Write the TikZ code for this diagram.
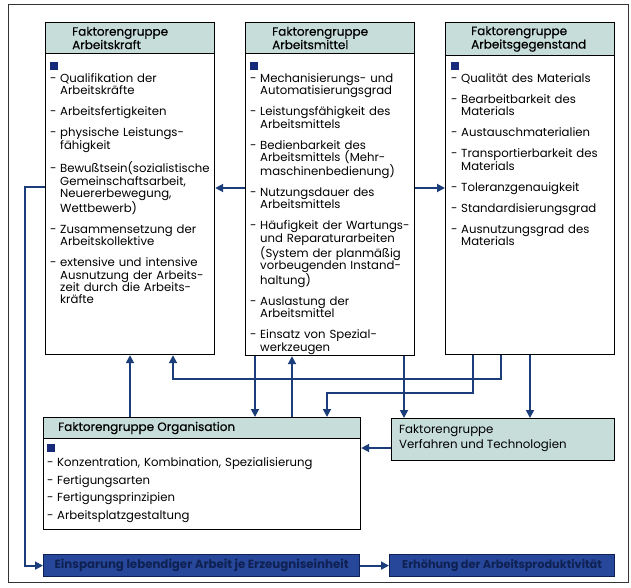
\documentclass[tikz,border=0pt]{standalone}
\usepackage{fontspec}
\setmainfont{Poppins}
\newfontfamily\kopffont{Poppins}[FakeBold=0.4]
\usetikzlibrary{arrows.meta}

\definecolor{linienblau}{HTML}{1B3D7A}
\definecolor{kopfgrau}{HTML}{C6DDD9}
\definecolor{quadratblau}{HTML}{17297A}
\definecolor{zielblau}{HTML}{27479A}
\definecolor{zieltext}{HTML}{0F2152}

% Aufzaehlung in den Kaesten
\newcommand{\quadrat}{\noindent\textcolor{quadratblau}{\rule{8pt}{8pt}}}
\newcommand{\punkt}[1][8.7pt]{\par\vspace{#1}\hangindent=10pt\hangafter=1\noindent\makebox[10pt][l]{-}}

\tikzset{
  kasten/.style={draw=black, line width=1.2pt, fill=white, inner sep=0pt, anchor=north west},
  kopf/.style={kasten, fill=kopfgrau},
  kopftext/.style={anchor=west, align=left, inner sep=0pt, font=\kopffont\fontsize{12}{12}\selectfont},
  liste/.style={anchor=north west, inner sep=0pt, text width=#1, font=\fontsize{11.7}{12.3}\selectfont},
  ziel/.style={draw=zieltext, line width=1.2pt, fill=zielblau, inner sep=0pt, anchor=north west,
    text=zieltext, font=\bfseries\fontsize{11.8}{13}\selectfont},
  fluss/.style={draw=linienblau, line width=1.8pt, -{Triangle[length=8pt,width=8pt]}, fill=none},
  rahmen/.style={draw=black!80, line width=1pt}
}

\begin{document}
\begin{tikzpicture}[x=1pt, y=-1pt]
    \useasboundingbox (0,0) rectangle (631,588);
    \draw[rahmen] (8,5) rectangle (628,582);

    % Faktorengruppe Arbeitskraft
    \node[kasten, minimum width=169pt, minimum height=332pt] (kraft) at (45,22) {};
    \node[kopf, minimum width=169pt, minimum height=31pt] (kraftkopf) at (45,22) {};
    \node[kopftext] (kraftname) at (72,38) {Faktorengruppe\\Arbeitskraft};
    \node[liste=180pt] (kraftliste) at (50,62) {\quadrat
      \punkt[0pt]Qualifikation der\newline Arbeitskräfte
      \punkt Arbeitsfertigkeiten
      \punkt physische Leistungs-\newline fähigkeit
      \punkt Bewußtsein(sozialistische\newline Gemeinschaftsarbeit,\newline Neuererbewegung,\newline Wettbewerb)
      \punkt Zusammensetzung der\newline Arbeitskollektive
      \punkt extensive und intensive\newline Ausnutzung der Arbeits-\newline zeit durch die Arbeits-\newline kräfte\par};

    % Faktorengruppe Arbeitsmittel
    \node[kasten, minimum width=169pt, minimum height=333pt] (mittel) at (245,22) {};
    \node[kopf, minimum width=169pt, minimum height=31pt] (mittelkopf) at (245,22) {};
    \node[kopftext] (mittelname) at (272,38) {Faktorengruppe\\Arbeitsmittel};
    \node[liste=180pt] (mittelliste) at (250,62) {\quadrat
      \punkt[0pt]Mechanisierungs- und\newline Automatisierungsgrad
      \punkt Leistungsfähigkeit des\newline Arbeitsmittels
      \punkt Bedienbarkeit des\newline Arbeitsmittels (Mehr-\newline maschinenbedienung)
      \punkt Nutzungsdauer des\newline Arbeitsmittels
      \punkt Häufigkeit der Wartungs-\newline und Reparaturarbeiten\newline (System der planmäßig\newline vorbeugenden Instand-\newline haltung)
      \punkt Auslastung der\newline Arbeitsmittel
      \punkt Einsatz von Spezial-\newline werkzeugen\par};

    % Faktorengruppe Arbeitsgegenstand
    \node[kasten, minimum width=169pt, minimum height=332pt] (gegen) at (445,22) {};
    \node[kopf, minimum width=169pt, minimum height=33pt] (gegenkopf) at (445,22) {};
    \node[kopftext] (gegenname) at (471,39) {Faktorengruppe\\Arbeitsgegenstand};
    \node[liste=180pt] (gegenliste) at (451,62) {\quadrat
      \punkt[0pt]Qualität des Materials
      \punkt Bearbeitbarkeit des\newline Materials
      \punkt Austauschmaterialien
      \punkt Transportierbarkeit des\newline Materials
      \punkt Toleranzgenauigkeit
      \punkt Standardisierungsgrad
      \punkt Ausnutzungsgrad des\newline Materials\par};

    % Faktorengruppe Organisation
    \node[kasten, minimum width=317pt, minimum height=112pt] (orga) at (43,417) {};
    \node[kopf, minimum width=317pt, minimum height=21pt] (orgakopf) at (43,417) {};
    \node[kopftext] (organame) at (58,428) {Faktorengruppe Organisation};
    \node[liste=300pt, font=\fontsize{11.7}{17.5}\selectfont] (orgaliste) at (47,444) {\quadrat
      \punkt[-3pt]Konzentration, Kombination, Spezialisierung
      \punkt[0pt]Fertigungsarten
      \punkt[0pt]Fertigungsprinzipien
      \punkt[0pt]Arbeitsplatzgestaltung\par};

    % Faktorengruppe Verfahren und Technologien
    \node[kopf, minimum width=223pt, minimum height=42pt] (verf) at (391,418) {};
    \node[kopftext, font=\fontsize{11.8}{15}\selectfont] (verfname) at (399,438) {Faktorengruppe\\Verfahren und Technologien};

    % Ergebnis
    \node[ziel, minimum width=316pt, minimum height=22pt] (einsp) at (43,554) {Einsparung lebendiger Arbeit je Erzeugniseinheit};
    \node[ziel, minimum width=225pt, minimum height=22pt, font=\bfseries\fontsize{11.3}{13}\selectfont] (erhoe) at (389,554) {Erhöhung der Arbeitsproduktivität};

    % Verbindungen
    \draw[fluss] (mittel.west |- 0,188) -- (kraft.east |- 0,188);
    \draw[fluss] (mittel.east |- 0,188) -- (gegen.west |- 0,188);
    \draw[fluss] (kraft.west |- 0,187) -- (25,187) |- (einsp.west);
    \draw[fluss] (einsp.east) -- (erhoe.west);
    \draw[fluss] (verf.west |- 0,448) -- (orga.east |- 0,448);
    \draw[fluss] (130,0 |- orga.north) -- (130,0 |- kraft.south);
    \draw[fluss] (501,0 |- gegen.south) -- (501,379) -| (173,0 |- kraft.south);
    \draw[fluss] (255,0 |- mittel.south) -- (255,0 |- orga.north);
    \draw[fluss] (292,0 |- orga.north) -- (292,0 |- mittel.south);
    \draw[fluss] (473,0 |- gegen.south) -- (473,393) -| (327,0 |- orga.north);
    \draw[fluss] (404,0 |- mittel.south) -- (404,0 |- verf.north);
    \draw[fluss] (530,0 |- gegen.south) -- (530,0 |- verf.north);
\end{tikzpicture}
\end{document}
